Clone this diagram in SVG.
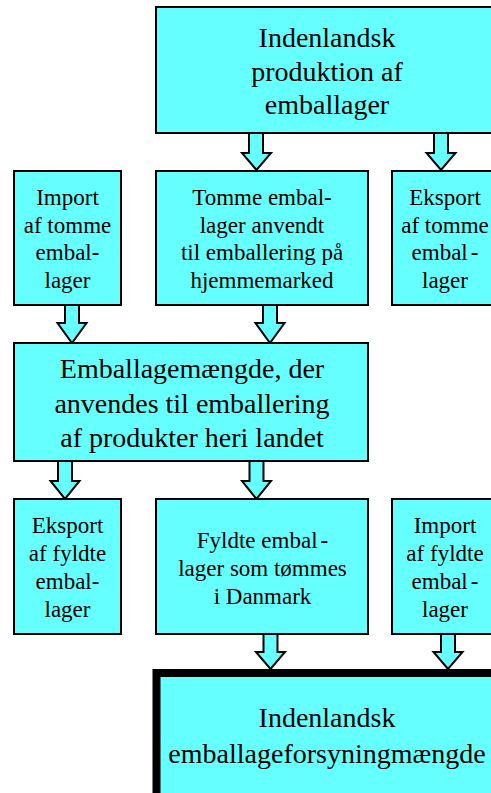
<svg xmlns="http://www.w3.org/2000/svg" width="491" height="793" viewBox="0 0 491 793">
<style>
.box{fill:#66FFFF;stroke:#000;stroke-width:2}
.thick{fill:#66FFFF;stroke:#000;stroke-width:8}
.arr{fill:#66FFFF;stroke:#000;stroke-width:2;stroke-linejoin:miter}
text{font-family:'Liberation Serif','Times New Roman',Times,'DejaVu Serif',serif;fill:#000;text-anchor:middle}
.big{font-size:28px}
.sm{font-size:23px}
</style>
<rect width="491" height="793" fill="#fff"/>
<g id="connectors">
<polygon class="arr" points="249,133 263,133 263,153 271,153 256.5,170 242,153 249,153"/>
<polygon class="arr" points="434,133 448,133 448,153 455.5,153 441,170 426.5,153 434,153"/>
<polygon class="arr" points="65,305 79,305 79,323 86.5,323 72,343 57.5,323 65,323"/>
<polygon class="arr" points="263,305 277,305 277,323 284.5,323 270,343 255.5,323 263,323"/>
<polygon class="arr" points="58,461 72,461 72,481 79.5,481 65,499 50.5,481 58,481"/>
<polygon class="arr" points="249.5,461 263.5,461 263.5,481 271,481 256.5,499 242,481 249.5,481"/>
<polygon class="arr" points="263.5,634 277.5,634 277.5,652 285,652 270.5,669 256,652 263.5,652"/>
<polygon class="arr" points="441,634 455,634 455,652 462.5,652 448,669 433.5,652 441,652"/>
</g>
<g id="n-produktion">
<rect class="box" x="156" y="7" width="342" height="126"/>
<text class="big" x="327" y="47" font-family="Liberation Serif">Indenlandsk</text>
<text class="big" x="327" y="81" font-family="Liberation Serif">produktion af</text>
<text class="big" x="327" y="114" font-family="Liberation Serif">emballager</text>
</g>
<g id="n-import-tomme">
<rect class="box" x="14" y="171" width="107" height="134"/>
<text class="sm" x="67.5" y="205">Import</text>
<text class="sm" x="67.5" y="232.5">af tomme</text>
<text class="sm" x="67.5" y="260">embal-</text>
<text class="sm" x="67.5" y="287.5">lager</text>
</g>
<g id="n-tomme-hjemme">
<rect class="box" x="156" y="171" width="212" height="134"/>
<text class="sm" x="262" y="205">Tomme embal-</text>
<text class="sm" x="262" y="232.5">lager anvendt</text>
<text class="sm" x="262" y="260">til emballering på</text>
<text class="sm" x="262" y="287.5">hjemmemarked</text>
</g>
<g id="n-eksport-tomme">
<rect class="box" x="392" y="171" width="106" height="134"/>
<text class="sm" x="445" y="205">Eksport</text>
<text class="sm" x="445" y="232.5">af tomme</text>
<text class="sm" x="445" y="260">embal<tspan dx="3">-</tspan></text>
<text class="sm" x="445" y="287.5">lager</text>
</g>
<g id="n-emballagemaengde">
<rect class="box" x="14" y="343" width="354" height="118"/>
<text class="big" x="192" y="378">Emballagemængde, der</text>
<text class="big" x="192" y="412.5">anvendes til emballering</text>
<text class="big" x="192" y="447">af produkter heri landet</text>
</g>
<g id="n-eksport-fyldte">
<rect class="box" x="14" y="499" width="107" height="135"/>
<text class="sm" x="67.5" y="533">Eksport</text>
<text class="sm" x="67.5" y="561">af fyldte</text>
<text class="sm" x="67.5" y="589">embal-</text>
<text class="sm" x="67.5" y="617">lager</text>
</g>
<g id="n-fyldte-danmark">
<rect class="box" x="156" y="499" width="212" height="135"/>
<text class="sm" x="262.5" y="548">Fyldte embal<tspan dx="3">-</tspan></text>
<text class="sm" x="262.5" y="576">lager som tømmes</text>
<text class="sm" x="262.5" y="604">i Danmark</text>
</g>
<g id="n-import-fyldte">
<rect class="box" x="392" y="499" width="106" height="135"/>
<text class="sm" x="445" y="533">Import</text>
<text class="sm" x="445" y="561">af fyldte</text>
<text class="sm" x="445" y="589">embal<tspan dx="3">-</tspan></text>
<text class="sm" x="445" y="617">lager</text>
</g>
<g id="n-forsyning">
<rect class="thick" x="156.5" y="673" width="345" height="140"/>
<text class="big" x="327" y="727">Indenlandsk</text>
<text class="big" x="327" y="763">emballageforsyningmængde</text>
</g>
</svg>
